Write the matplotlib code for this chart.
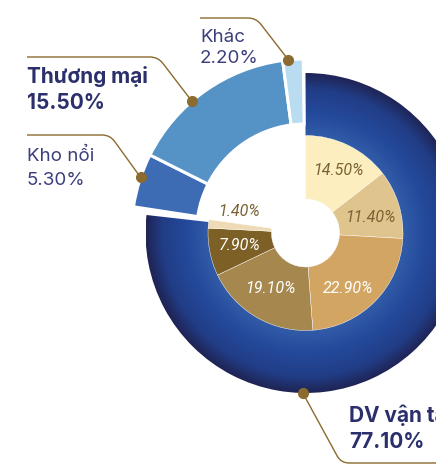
"""Nested donut: revenue structure by segment, with DV vận tải breakdown."""
import numpy as np
import matplotlib
matplotlib.use("Agg")
import matplotlib.pyplot as plt
from matplotlib.patches import Wedge, PathPatch
from matplotlib.path import Path
from matplotlib.colors import LinearSegmentedColormap

# outer ring: segment share (%)
outer_labels = ["DV vận tải", "Kho nổi", "Thương mại", "Khác"]
outer_values = [77.10, 5.30, 15.50, 2.20]
outer_colors = [None, "#3d6bb4", "#5592c5", "#b9dcf1"]

# inner ring: breakdown of DV vận tải (%)
inner_values = [14.50, 11.40, 22.90, 19.10, 7.90, 1.40]
inner_colors = ["#fdeebf", "#e0c48d", "#d3a562", "#a6884e", "#7c6026", "#eedbb6"]
inner_text_colors = ["#7a6232", "#7a6232", "white", "white", "white", "#7a6232"]

W, H = 436, 468
CX, CY = 305.5, 233
NAVY = "#2b2f6b"
GOLD = "#8b6b2f"

DV_R, DV_IN = 160, 97
SMALL_R, SMALL_W = 174, 65
IN_R, IN_HOLE = 97.5, 34
GAP = 1.1  # degrees of white between DV and the small segments

# layout for outer labels: text x, baselines, bold, leader points, dot position along the wedge
label_layout = {
    "DV vận tải": dict(x=349, base=(422, 448), bold=True, corner=(341, 463), end=(436, 463), frac=0.652),
    "Kho nổi": dict(x=27, base=(161, 185), bold=False, start=(27, 135), corner=(110, 135), frac=0.58),
    "Thương mại": dict(x=27, base=(83, 109), bold=True, start=(27, 57), corner=(158, 57), frac=0.405),
    "Khác": dict(x=200, base=(42, 63), bold=False, start=(200, 18), corner=(256, 18), frac=0.24),
}
inner_nudge = [(3, -1), (0, 5), (-6, 8), (-1, -3), (1, -1), (1, -15)]


def clock_to_data(a):
    # clockwise-from-top angle -> data angle on a y-down axis
    return a - 90


def point_at(a, r):
    t = np.deg2rad(clock_to_data(a))
    return CX + r * np.cos(t), CY + r * np.sin(t)


def leader(ax, p0, corner, p1, rad=8):
    p0, corner, p1 = map(np.asarray, (p0, corner, p1))
    u1 = (corner - p0) / np.linalg.norm(corner - p0)
    u2 = (p1 - corner) / np.linalg.norm(p1 - corner)
    a, b = corner - rad * u1, corner + rad * u2
    path = Path([p0, a, corner, b, p1],
                [Path.MOVETO, Path.LINETO, Path.CURVE3, Path.CURVE3, Path.LINETO])
    ax.add_patch(PathPatch(path, fill=False, edgecolor=GOLD, lw=1.0, zorder=5))


fig = plt.figure(figsize=(W / 100, H / 100), dpi=100)
ax = fig.add_axes([0, 0, 1, 1])
ax.set_xlim(0, W)
ax.set_ylim(H, 0)
ax.axis("off")

# angles of the outer ring
ends = np.cumsum(outer_values) / 100 * 360
starts = ends - np.array(outer_values) / 100 * 360

# DV vận tải with radial gradient
dv_wedge = Wedge((CX, CY), DV_R, clock_to_data(starts[0]), clock_to_data(ends[0] - GAP),
                 width=DV_R - DV_IN, facecolor="none", edgecolor="none")
ax.add_patch(dv_wedge)
cmap = LinearSegmentedColormap.from_list(
    "dv", [(0, "#325ca8"), (0.35, "#244a9c"), (0.75, "#213d86"), (1.0, "#1f2455")])
xx, yy = np.meshgrid(np.linspace(CX - DV_R, CX + DV_R, 400), np.linspace(CY - DV_R, CY + DV_R, 400))
rr = np.clip((np.hypot(xx - CX, yy - CY) - DV_IN) / (DV_R - DV_IN), 0, 1)
img = ax.imshow(rr, cmap=cmap, vmin=0, vmax=1, origin="upper",
                extent=(CX - DV_R, CX + DV_R, CY + DV_R, CY - DV_R), zorder=1, interpolation="bilinear")
img.set_clip_path(dv_wedge)

# small segments
for i in range(1, len(outer_values)):
    a0 = starts[i] + (GAP if i == 1 else 0)
    a1 = ends[i] - (GAP if i == len(outer_values) - 1 else 0)
    ax.add_patch(Wedge((CX, CY), SMALL_R, clock_to_data(a0), clock_to_data(a1), width=SMALL_W,
                       facecolor=outer_colors[i], edgecolor="white", lw=2.2, zorder=2))

# inner ring
iends = np.cumsum(inner_values) / 100 * 360
istarts = iends - np.array(inner_values) / 100 * 360
for i, v in enumerate(inner_values):
    ax.add_patch(Wedge((CX, CY), IN_R, clock_to_data(istarts[i]), clock_to_data(iends[i]),
                       width=IN_R - IN_HOLE, facecolor=inner_colors[i], edgecolor="white",
                       lw=0.3, zorder=3))
    mx, my = point_at((istarts[i] + iends[i]) / 2, 68)
    dx, dy = inner_nudge[i]
    ax.text(mx + dx, my + dy, f"{v:.2f}%", ha="center", va="center", fontsize=11.5,
            family=["Roboto", "DejaVu Sans"], weight="normal", style="italic",
            color=inner_text_colors[i], zorder=4)

# outer labels with leaders
for i, name in enumerate(outer_labels):
    lay = label_layout[name]
    dot_a = starts[i] + lay["frac"] * (ends[i] - starts[i])
    r = DV_R if i == 0 else SMALL_R
    dot = point_at(dot_a, r)
    if i == 0:
        leader(ax, dot, lay["corner"], lay["end"])
    else:
        leader(ax, lay["start"], lay["corner"], dot)
    ax.plot(*dot, "o", color=GOLD, ms=7, zorder=6)
    weight = "bold" if lay["bold"] else "normal"
    size = 15 if lay["bold"] else 13.5
    color = NAVY if lay["bold"] else "#3b3f7c"
    for txt, base in zip([name, f"{outer_values[i]:.2f}%"], lay["base"]):
        ax.text(lay["x"], base, txt, ha="left", va="baseline", fontsize=size, weight=weight,
                color=color, family=["Inter", "DejaVu Sans"], zorder=6)

fig.savefig("out.png", dpi=100)
